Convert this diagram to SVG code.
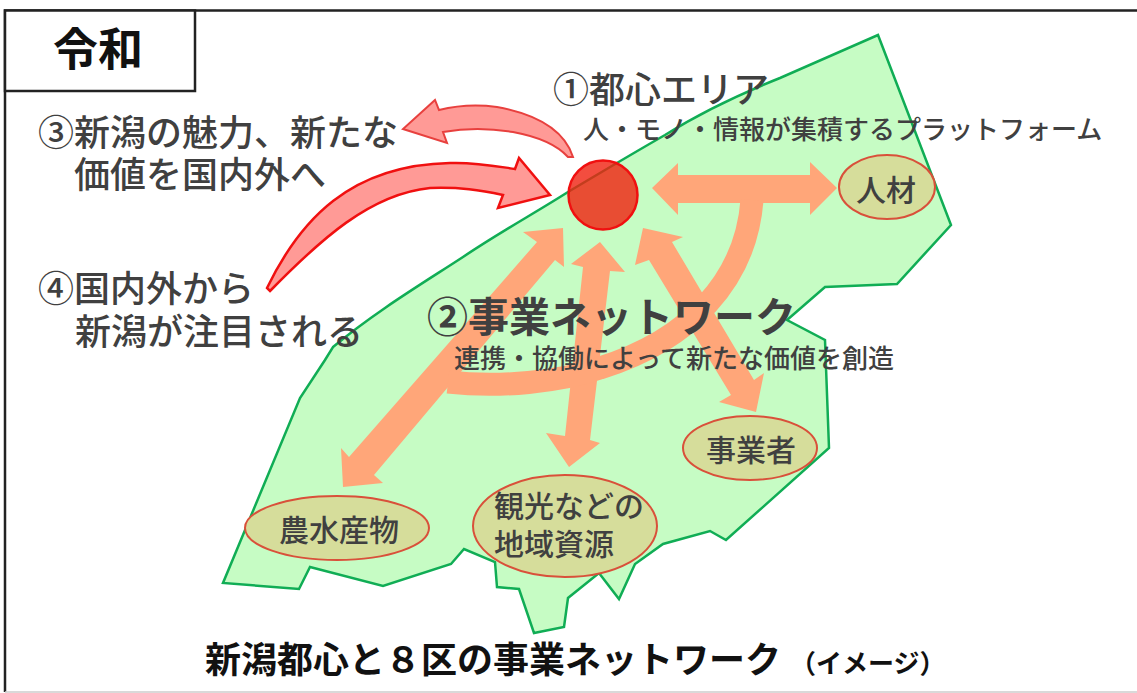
<svg xmlns="http://www.w3.org/2000/svg" width="1137" height="693" viewBox="0 0 1137 693">
<style>
text{font-family:"Noto Sans CJK JP","Noto Sans CJK SC",sans-serif;fill:#404040;font-weight:500}
.h{font-size:36px}
.s{font-size:26px}
.n{font-size:30px;text-anchor:middle}
.b{font-size:36px;font-weight:700;fill:#111}
.o{fill:#FFA679;stroke:none}
.r{stroke:#F01010;stroke-width:2.500;fill:#FF9A96;stroke-linejoin:miter}
.e{fill:#D6DD9B;stroke:#D9503A;stroke-width:2}
</style>
<rect width="1137" height="693" fill="#fff"/>
<path d="M5 692V10.500H1137" fill="none" stroke="#222" stroke-width="2.500"/>
<path d="M5 692H1137" fill="none" stroke="#ccc" stroke-width="1.500"/>
<g id="region">
<path d="M878 35L951 225L897 284L825 287L787 320L825 340L829 448L726 540L710 531L663 544L635 564L619 599L599 573L568 598L564 627L534 633L519 589L497 587L495 562L464 549L451 564L383 586L310 567L299 589L223 583L300 398L325 360L333 347C375 312 420 285 463 257C500 232 535 213 568 192C600 173 630 155 665 135C700 113 745 92 780 78Z" fill="#C6FCC4" stroke="#10AD55" stroke-width="2.500"/>
</g>
<g id="connectors">
<polygon class="o" points="563,228 523,232 537,242 349,457 341,448 343,487 383,483 374,475 555,260 564,267"/>
<polygon class="o" points="600,242 625,272 610,271 590,440 600,443 569,467 546,433 565,436 583,267 571,264"/>
<polygon class="o" points="643,228 683,237 672,242 754,380 764,373 756,412 719,402 731,395 649,260 635,265"/>
<polygon class="o" points="652,188 678,163 678,175 810,175 810,162 837,188 810,215 810,203 678,203 678,215"/>
<path d="M752 200C746 280 690 340 600 368C560 382 500 388 448 382" fill="none" stroke="#FFA679" stroke-width="23"/>
<path id="arrow3" class="r" style="stroke:#E8403E;stroke-width:2" d="M573 157C565 132 540 115 497 107C475 104 455 106 439 110L435 100L403 129L447 143L443 132C465 128 490 128 513 132C540 137 558 146 568 157Z"/>
<path id="arrow4" class="r" d="M267 288C300 220 350 165 450 163C475 162 495 166 515 169L519 158L550 195L498 208L503 195C480 190 460 187 430 188C370 194 320 240 270 291Z"/>
</g>
<g id="center"><circle cx="603" cy="195" r="34.500" fill="#F0200F" fill-opacity="0.8" stroke="#F01010" stroke-width="2.500"/></g>
<g id="title"><rect x="5" y="10.500" width="190" height="80.500" fill="#fff" stroke="#222" stroke-width="2.500"/>
<text x="53" y="66" font-size="45" style="fill:#111;font-weight:700">令和</text></g>
<g id="label1"><text class="h" x="553" y="103">①都心エリア</text>
<text class="s" x="583" y="139">人・モノ・情報が集積するプラットフォーム</text></g>
<g id="label2"><text x="427" y="332" font-size="41" style="font-weight:700">②事業ネットワーク</text>
<text class="s" x="454" y="368">連携・協働によって新たな価値を創造</text></g>
<g id="label3"><text class="h" x="38" y="146">③新潟の魅力、新たな</text>
<text class="h" x="74" y="188">価値を国内外へ</text></g>
<g id="label4"><text class="h" x="38" y="302">④国内外から</text>
<text class="h" x="75" y="345">新潟が注目される</text></g>
<g id="jinzai"><ellipse class="e" cx="887" cy="187" rx="48" ry="32"/><text class="n" x="886" y="201">人材</text></g>
<g id="jigyosha"><ellipse class="e" cx="750" cy="448" rx="67" ry="32"/><text class="n" x="751" y="461">事業者</text></g>
<g id="nosuisan"><ellipse class="e" cx="337" cy="528" rx="92" ry="32"/><text class="n" x="339" y="541">農水産物</text></g>
<g id="chiiki"><ellipse class="e" cx="565" cy="526" rx="92" ry="51"/><text x="494" y="517" font-size="30">観光などの</text><text x="494" y="555" font-size="30">地域資源</text></g>
<g id="caption"><text class="b" x="205" y="673">新潟都心と８区の事業ネットワーク</text>
<text x="790" y="673" font-size="26" style="fill:#111;font-weight:700">（イメージ）</text></g>
</svg>
